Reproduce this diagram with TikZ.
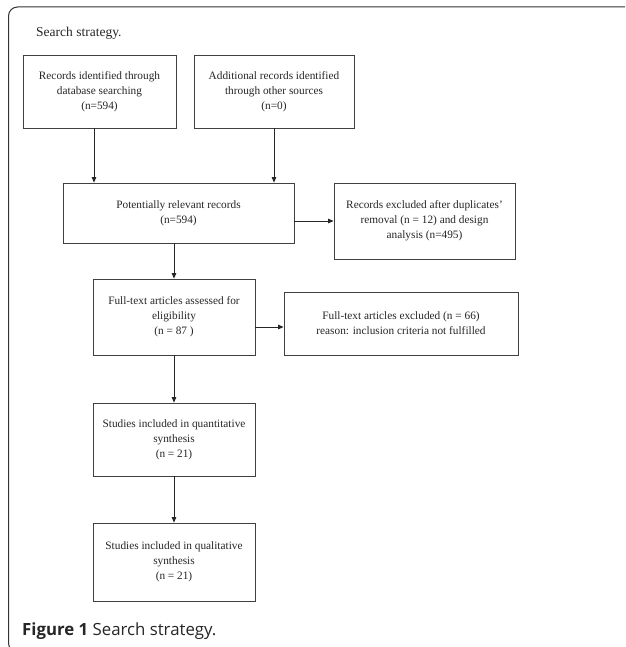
\documentclass[tikz,border=0pt]{standalone}
\usepackage{fontspec}
\setmainfont{Liberation Serif}
\newfontfamily\capfont{Open Sans}
\usetikzlibrary{arrows.meta}
\begin{document}
\begin{tikzpicture}[x=1pt,y=-1pt,
  boxst/.style={draw=black!75,line width=0.8pt,align=center,inner sep=0pt,
    font=\fontsize{11.3}{15}\selectfont,text=black!85},
  arr/.style={draw=black!85,line width=0.8pt,-{Triangle[length=5.5pt,width=4.5pt]}}]
\useasboundingbox (0,0) rectangle (625,647);
\clip (0,0) rectangle (625,647);
\fill[white] (0,0) rectangle (625,647);
% outer frame
\draw[black!80,line width=1pt,rounded corners=9pt] (630,7) -- (8.5,7) -- (8.5,652) -- (40,652);
\node[anchor=base west,font=\fontsize{13.5}{15}\selectfont,text=black!85,inner sep=0pt] (title) at (36,36.5) {Search strategy.};
% boxes
\node[boxst,minimum width=153pt,minimum height=73pt] (b1) at (99.5,91.5) {Records identified through\\database searching\\(n=594)};
\node[boxst,minimum width=160pt,minimum height=73pt] (b2) at (274,91.5) {Additional records identified\\through other sources\\(n=0)};
\node[boxst,minimum width=231pt,minimum height=60pt] (b3) at (178.5,213) {Potentially relevant records\\(n=594)};
\node[boxst,minimum width=181pt,minimum height=76pt] (b4) at (424.5,221) {Records excluded after duplicates'\\removal (n = 12) and design\\analysis (n=495)};
\node[boxst,minimum width=162pt,minimum height=76pt] (b5) at (174,317) {Full-text articles assessed for\\eligibility\\(n = 87 )};
\node[boxst,minimum width=234pt,minimum height=63pt] (b6) at (401,323.5) {Full-text articles excluded (n = 66)\\reason: inclusion criteria not fulfilled};
\node[boxst,minimum width=162pt,minimum height=73pt] (b7) at (174,439.5) {Studies included in quantitative\\synthesis\\(n = 21)};
\node[boxst,minimum width=162pt,minimum height=78pt] (b8) at (174,562) {Studies included in qualitative\\synthesis\\(n = 21)};
% caption
\node[anchor=base west,inner sep=0pt,font=\capfont\fontsize{16.8}{18}\selectfont,text=black!85] (cap) at (22,635.5) {\textbf{Figure 1} Search strategy.};
% arrows
\draw[arr] (b1.south -| 94,0) -- (b3.north -| 94,0);
\draw[arr] (b2.south) -- (b3.north -| b2.south);
\draw[arr] (b3.east |- 0,221) -- (b4.west |- 0,221);
\draw[arr] (b3.south -| b5.north) -- (b5.north);
\draw[arr] (b5.east |- 0,327) -- (b6.west |- 0,327);
\draw[arr] (b5.south) -- (b7.north);
\draw[arr] (b7.south) -- (b8.north);
\end{tikzpicture}
\end{document}
